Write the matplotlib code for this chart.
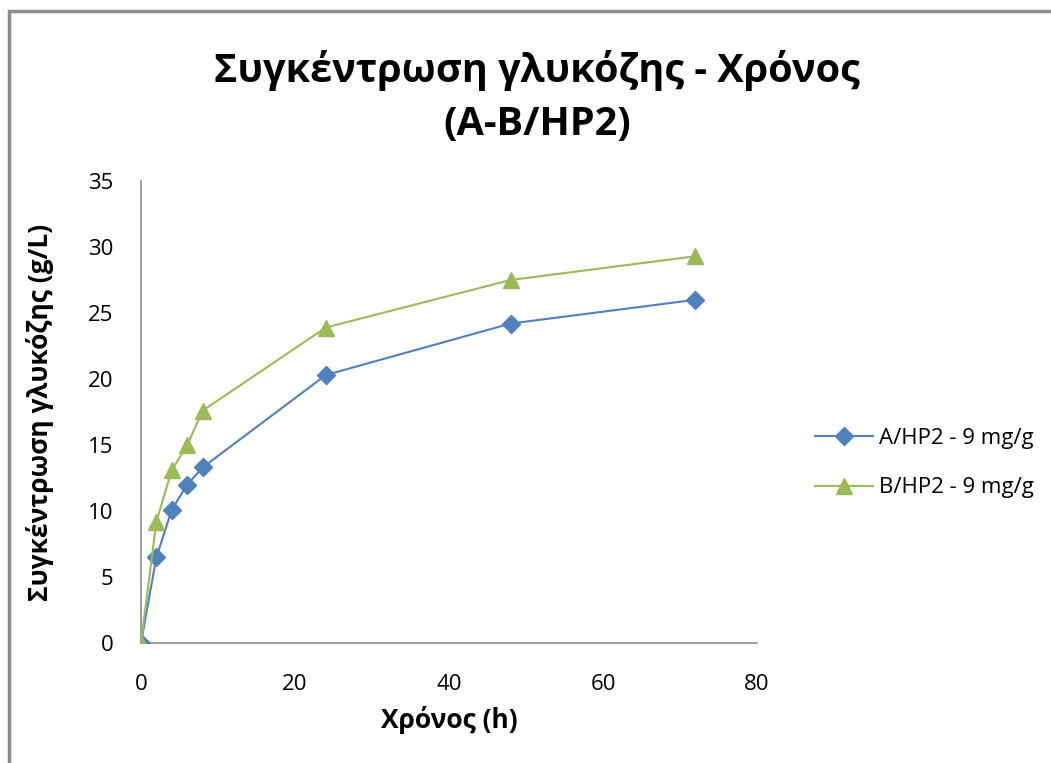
import matplotlib
matplotlib.use("Agg")
import matplotlib.pyplot as plt
from matplotlib.patches import Rectangle

#---------- data ----------
time_h = [0, 2, 4, 6, 8, 24, 48, 72]
glucose_a = [0, 6.5, 10.1, 12.0, 13.3, 20.3, 24.2, 26.0]
glucose_b = [0, 9.2, 13.1, 15.0, 17.6, 23.9, 27.5, 29.3]
label_a = "A/HP2 - 9 mg/g"
label_b = "B/HP2 - 9 mg/g"
title = "Συγκέντρωση γλυκόζης - Χρόνος\n(A-B/HP2)"
xlabel = "Χρόνος (h)"
ylabel = "Συγκέντρωση γλυκόζης (g/L)"

plt.rcParams['font.family'] = ['Open Sans', 'DejaVu Sans']

#---------- figure ----------
fig = plt.figure(figsize=(10.51, 7.63), dpi=100)

# chart border (only top and left edges show)
fig.patches.append(Rectangle((8.5 / 1051, -0.1), 1.2, 1.1 - 11 / 763,
                             transform=fig.transFigure, fill=False,
                             edgecolor='#8c8c8c', linewidth=2.5))

ax = fig.add_axes([141 / 1051, 1 - 643 / 763, 616 / 1051, 462 / 763])

ax.plot(time_h, glucose_a, color='#4F81BD', marker='D', markersize=9,
        linewidth=1.5, label=label_a, zorder=3)
ax.plot(time_h, glucose_b, color='#9BBB59', marker='^', markersize=11,
        linewidth=1.5, label=label_b, zorder=3)

ax.set_xlim(0, 80)
ax.set_ylim(0, 35)
ax.set_xticks(range(0, 81, 20))
ax.set_yticks(range(0, 36, 5))
ax.tick_params(axis='y', length=0, labelsize=16, pad=20)
ax.tick_params(axis='x', length=0, labelsize=16, pad=22)

for side in ['top', 'right']:
    ax.spines[side].set_visible(False)
for side in ['left', 'bottom']:
    ax.spines[side].set_color('#8c8c8c')
    ax.spines[side].set_linewidth(1.2)

ax.set_xlabel(xlabel, fontsize=19, fontweight='bold', labelpad=8)
ax.set_ylabel(ylabel, fontsize=19, fontweight='bold', labelpad=24)

fig.text(537 / 1051, 1 - 97 / 763, title, ha='center', va='center',
         fontsize=28.5, fontweight='bold', linespacing=1.45)

ax.legend(loc='center left', bbox_to_anchor=(795 / 1051, 1 - 463 / 763),
          bbox_transform=fig.transFigure, frameon=False, fontsize=16,
          handlelength=2.6, handletextpad=0.3, labelspacing=1.3)

fig.savefig("out.png", dpi=100)
